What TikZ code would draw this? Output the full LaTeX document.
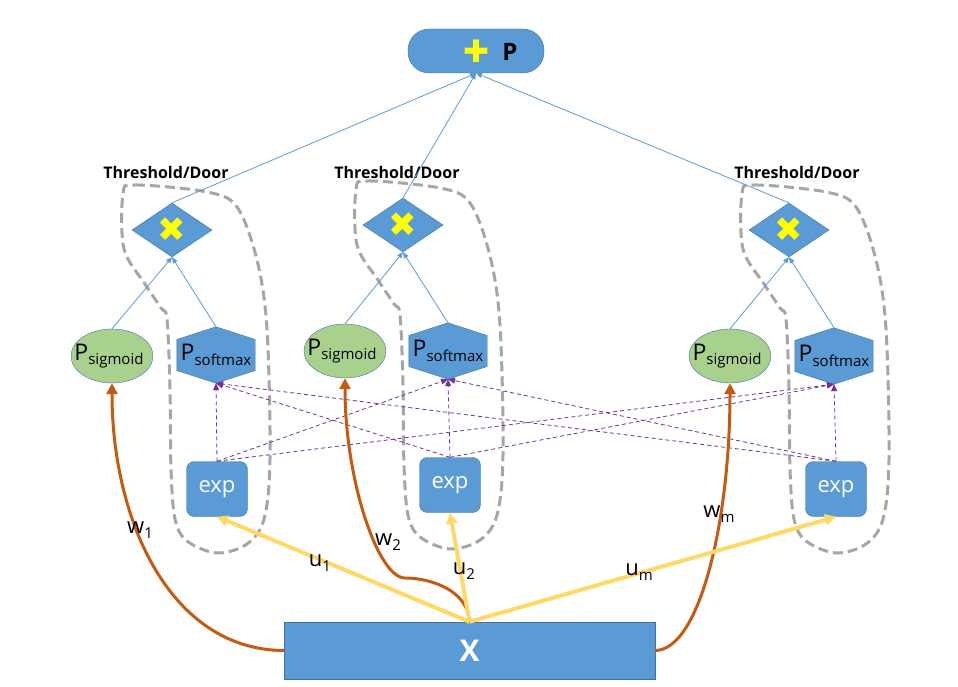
\documentclass[tikz,border=0pt]{standalone}
\usepackage{fontspec}
\setmainfont{Open Sans}
\newfontfamily\symfont{DejaVu Sans}
\usetikzlibrary{shapes.geometric, arrows.meta, backgrounds, positioning}
\definecolor{BoxBlue}{HTML}{5B9BD5}
\definecolor{EdgeBlue}{HTML}{41719C}
\definecolor{SigGreen}{HTML}{A9D18E}
\definecolor{WeightOrange}{HTML}{C55A11}
\definecolor{InputGold}{HTML}{FFD966}
\definecolor{LinkPurple}{HTML}{7030A0}
\definecolor{DoorGray}{HTML}{A6A6A6}
\definecolor{MarkYellow}{HTML}{FFFF00}
\newcommand{\pvar}[1]{{\fontsize{23}{25}\selectfont P}\raisebox{-4.5pt}{\fontsize{15}{17}\selectfont #1}}
\newcommand{\wvar}[2]{{\fontsize{22}{24}\selectfont #1}\raisebox{-5.5pt}{\fontsize{15}{17}\selectfont #2}}
% hexagon behind a softmax node
\newcommand{\hexfor}[1]{%
  \begin{scope}[on background layer]
    \filldraw[softhex] (#1.north) -- ([yshift=15.5pt]#1.east) -- ([yshift=-15.5pt]#1.east)
      -- (#1.south) -- ([yshift=-15.5pt]#1.west) -- ([yshift=15.5pt]#1.west) -- cycle;
  \end{scope}}
% dashed threshold/door outline around one branch
\newcommand{\doorat}[1]{%
  \draw[doorline, shift={(#1)}] plot[smooth cycle, tension=0.55] coordinates {
    (-94,295) (-82,304) (-10,297) (20,282) (40,229) (50,160) (53,30) (47,-30)
    (30,-55) (0,-64) (-30,-52) (-42,-30) (-46,20) (-47,100) (-50,170) (-56,181)
    (-72,205) (-93,240)};}
\tikzset{
  sumbox/.style={rectangle, rounded corners=21pt, draw=EdgeBlue, fill=BoxBlue, minimum width=136pt, minimum height=44pt},
  plusmark/.style={text=MarkYellow, font=\symfont\fontsize{31}{31}\selectfont, inner sep=0pt},
  mulbox/.style={diamond, draw=EdgeBlue, fill=BoxBlue, minimum width=80pt, minimum height=54pt, inner sep=0pt,
    label={center:{\symfont\fontsize{34}{34}\selectfont\color{MarkYellow}✖}}},
  sigbox/.style={ellipse, draw=EdgeBlue, fill=SigGreen, minimum width=82pt, minimum height=54pt, inner sep=0pt,
    label={[xshift=-3pt]center:\pvar{sigmoid}}},
  softbox/.style={rectangle, minimum width=78pt, minimum height=56pt, inner sep=0pt},
  softhex/.style={draw=EdgeBlue, fill=BoxBlue},
  expbox/.style={rectangle, rounded corners=8pt, draw=EdgeBlue, fill=BoxBlue, text=white, minimum width=61pt, minimum height=55pt, font=\fontsize{22}{24}\selectfont},
  inbox/.style={rectangle, draw=EdgeBlue, fill=BoxBlue, text=white, minimum width=371pt, minimum height=57pt, font=\fontsize{30}{32}\selectfont\bfseries},
  doortext/.style={font=\fontsize{16}{18}\selectfont\bfseries},
  doorline/.style={DoorGray, line width=3pt, dash pattern=on 10pt off 5pt},
  thinarrow/.style={-{Triangle[length=6pt,width=5pt]}, BoxBlue, line width=0.8pt},
  mixarrow/.style={-{Triangle[length=7pt,width=6pt]}, LinkPurple, line width=0.8pt, dash pattern=on 4pt off 3pt},
  uarrow/.style={-{Triangle[length=11pt,width=11pt]}, InputGold, line width=4pt},
  warrow/.style={-{Triangle[length=11pt,width=11pt]}, WeightOrange, line width=3pt},
  wlabel/.style={inner sep=0pt}
}
\begin{document}
\begin{tikzpicture}[x=1pt, y=1pt]
  \useasboundingbox (0,0) rectangle (958,686);

  % output
  \node[sumbox] (sum) at (476,635) {};
  \node[plusmark] (plus) at (sum.center) {✚};
  \node[font=\fontsize{24}{24}\selectfont\bfseries] (ptxt) at (510,634) {P};

  % gates
  \node[doortext] (door1) at (166,513) {Threshold/Door};
  \node[doortext] (door2) at (397,513) {Threshold/Door};
  \node[doortext] (door3) at (797,513) {Threshold/Door};

  \node[mulbox] (m1) at (172,456) {};
  \node[mulbox] (m2) at (403,461) {};
  \node[mulbox] (m3) at (789,456) {};

  \node[sigbox] (s1) at (112,330) {};
  \node[sigbox] (s2) at (345,335) {};
  \node[sigbox] (s3) at (730,330) {};

  \node[softbox] (x1) at (216,331) {\pvar{softmax}};
  \node[softbox] (x2) at (448,335) {\pvar{softmax}};
  \node[softbox] (x3) at (834,330) {\pvar{softmax}};
  \hexfor{x1} \hexfor{x2} \hexfor{x3}

  \node[expbox] (e1) at (217,197) {exp};
  \node[expbox] (e2) at (450,201) {exp};
  \node[expbox] (e3) at (836,197) {exp};

  \node[inbox] (in) at (469.5,35.5) {X};

  \doorat{e1} \doorat{e2} \doorat{e3}

  % gate -> sum
  \foreach \i in {1,2,3} {
    \draw[thinarrow] (s\i.north) -- (m\i.south);
    \draw[thinarrow] (x\i.north) -- (m\i.south);
    \draw[thinarrow] (m\i.north) -- (sum.south);
  }
  % exp -> every softmax
  \foreach \i in {1,2,3}
    \foreach \j in {1,2,3}
      \draw[mixarrow] (e\i.north) -- (x\j.south);

  % input weights
  \draw[warrow] (in.west) .. controls (170,36) and (112,166) .. (s1.south);
  \draw[warrow] (in.north) .. controls (468,96) and (430,108) .. (405,108)
    .. controls (378,108) and (345,206) .. (s2.south);
  \draw[warrow] (in.east) .. controls (700,36) and (730,166) .. (s3.south);
  \draw[uarrow] (in.north) -- (e1.south);
  \draw[uarrow] (in.north) -- (e2.south);
  \draw[uarrow] (in.north) -- (e3.south);

  \node[wlabel] (w1) at (140,156) {\wvar{w}{1}};
  \node[wlabel] (w2) at (388,144) {\wvar{w}{2}};
  \node[wlabel] (wm) at (719,172) {\wvar{w}{m}};
  \node[wlabel] (u1) at (320,123) {\wvar{u}{1}};
  \node[wlabel] (u2) at (464,115) {\wvar{u}{2}};
  \node[wlabel] (um) at (639,114) {\wvar{u}{m}};
\end{tikzpicture}
\end{document}
